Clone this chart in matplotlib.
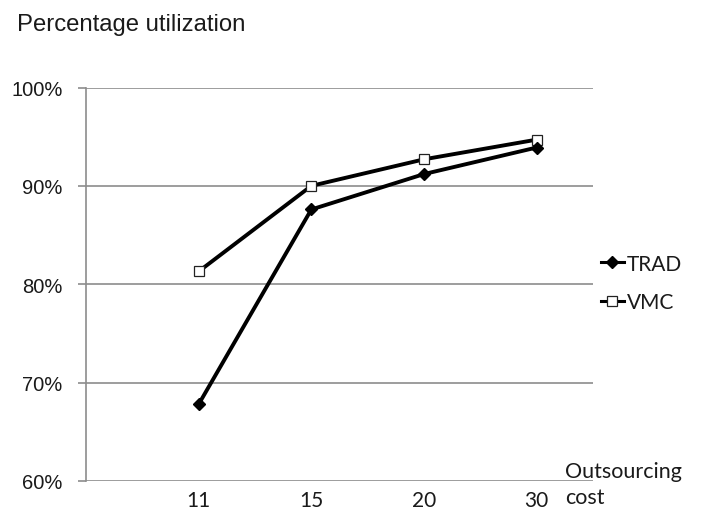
import matplotlib
matplotlib.use("Agg")
import matplotlib.pyplot as plt
from matplotlib.ticker import FuncFormatter

# Outsourcing cost categories and utilization (%) per scheduling approach
costs = ["11", "15", "20", "30"]
trad = [67.8, 87.6, 91.2, 93.9]
vmc = [81.3, 90.0, 92.7, 94.7]
y_ticks = [60, 70, 80, 90, 100]

W, H, DPI = 701, 510, 100
fig = plt.figure(figsize=(W / DPI, H / DPI), dpi=DPI)
fig.patch.set_facecolor("white")

left, right, bottom, top = 86, 593, 482, 88.5
ax = fig.add_axes([left / W, 1 - bottom / H, (right - left) / W, (bottom - top) / H])

grid_color = "#8c8c8c"
text_color = "#1a1a1a"
label_font = "Lato"
axis_font = "Liberation Sans"

x = list(range(len(costs)))
ax.plot(x, vmc, color="black", lw=2.8, marker="s", ms=7.5,
        mfc="white", mec="#222222", mew=0.9, label="VMC", zorder=3)
ax.plot(x, trad, color="black", lw=2.8, marker="D", ms=6.5,
        mfc="black", mec="black", label="TRAD", zorder=4)

ax.set_xlim(-1, 3.5)
ax.set_ylim(60, 100)
ax.set_yticks(y_ticks)
ax.yaxis.set_major_formatter(FuncFormatter(lambda v, p: f"{v:.0f}%"))
ax.grid(axis="y", color=grid_color, lw=1.2)
ax.set_axisbelow(True)

for s in ["top", "right", "bottom"]:
    ax.spines[s].set_visible(False)
ax.spines["left"].set_color(grid_color)
ax.spines["left"].set_linewidth(1.2)

ax.tick_params(axis="y", length=5.8, width=1.2, color=grid_color, pad=11,
               labelsize=14.5, labelcolor=text_color)
for lab in ax.get_yticklabels():
    lab.set_fontfamily(axis_font)

# Category labels under the axis, vertically centred a fixed distance below it
ax.set_xticks(x)
ax.set_xticklabels(costs, fontfamily=label_font, fontsize=15, color=text_color,
                   va="center")
ax.tick_params(axis="x", length=0, pad=13.5)

# Axis captions
fig.text(17 / W, 1 - 25 / H, "Percentage utilization", fontfamily=axis_font,
         fontsize=17.2, color=text_color, ha="left", va="center")
fig.text(565 / W, 1 - 485 / H, "Outsourcing\ncost", fontfamily=label_font,
         fontsize=15.5, color=text_color, ha="left", va="center", linespacing=1.38)

handles, labels = ax.get_legend_handles_labels()
leg = fig.legend(handles[::-1], labels[::-1], loc="center left",
                 bbox_to_anchor=(601 / W, 1 - 284 / H), frameon=False,
                 borderpad=0, borderaxespad=0,
                 prop={"family": label_font, "size": 15}, handlelength=1.1,
                 handletextpad=0.15, labelspacing=0.9, markerscale=0.9,
                 labelcolor=text_color)
for line in leg.get_lines():
    line.set_linewidth(2.2)

fig.savefig("out.png", dpi=DPI, facecolor="white")
